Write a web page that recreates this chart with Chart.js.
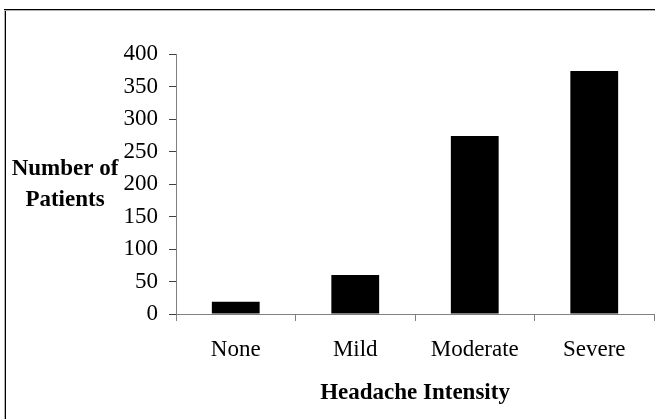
<!DOCTYPE html>
<html>
<head>
<meta charset="utf-8">
<script src="https://cdn.jsdelivr.net/npm/chart.js@4.4.0/dist/chart.umd.min.js"></script>
<style>
  html, body { margin: 0; padding: 0; background: #fff; }
  #wrap { width: 655px; height: 419px; position: relative; }
</style>
</head>
<body>
<div id="wrap"><canvas id="chart" width="655" height="419"></canvas></div>
<script>
// categories and values
const categories = ['None', 'Mild', 'Moderate', 'Severe'];
const patients = [19, 60, 274, 374];
const yTicks = [0, 50, 100, 150, 200, 250, 300, 350, 400];
const yTitleLines = ['Number of', 'Patients'];
const xTitle = 'Headache Intensity';

const serif = '"Liberation Serif", "Times New Roman", serif';
const axisGrey = '#808080';

// frame around the picture and the horizontal y-axis title
const framePlugin = {
    id: 'frame',
    beforeDraw(chart) {
        const ctx = chart.ctx;
        ctx.save();
        ctx.fillStyle = '#000';
        ctx.fillRect(4, 9, chart.width - 4, 1);
        ctx.fillRect(5, 9, 1, chart.height - 9);
        ctx.fillStyle = '#b0b0b0';
        ctx.fillRect(5, 10, chart.width - 5, 1);
        ctx.fillRect(4, 10, 1, chart.height - 10);
        ctx.restore();
    },
    afterDraw(chart) {
        const ctx = chart.ctx;
        ctx.save();
        ctx.font = 'bold 23px ' + serif;
        ctx.fillStyle = '#000';
        ctx.textAlign = 'center';
        ctx.textBaseline = 'alphabetic';
        ctx.fillText(yTitleLines[0], 65, 175);
        ctx.fillText(yTitleLines[1], 65, 206);
        ctx.restore();
    }
};

const ctx = document.getElementById('chart').getContext('2d');
new Chart(ctx, {
    type: 'bar',
    data: {
        labels: categories,
        datasets: [{
            data: patients,
            backgroundColor: '#000',
            borderWidth: 0,
            barPercentage: 0.4,
            categoryPercentage: 1.0
        }]
    },
    options: {
        responsive: false,
        animation: false,
        layout: { padding: { top: 54, right: 1, bottom: 0, left: 0 } },
        plugins: {
            legend: { display: false },
            tooltip: { enabled: false }
        },
        scales: {
            x: {
                grid: {
                    offset: true,
                    drawOnChartArea: false,
                    tickLength: 7,
                    color: axisGrey
                },
                border: { color: axisGrey, width: 1 },
                ticks: {
                    color: '#000',
                    padding: 15,
                    font: { family: serif, size: 23 }
                },
                title: {
                    display: true,
                    text: xTitle,
                    color: '#000',
                    font: { family: serif, size: 23, weight: 'bold' },
                    padding: { top: 0, bottom: 12 }
                },
                afterFit(scale) { scale.height = 105; }
            },
            y: {
                min: 0,
                max: 400,
                afterBuildTicks(scale) {
                    scale.ticks = yTicks.map(v => ({ value: v }));
                },
                grid: {
                    drawOnChartArea: false,
                    tickLength: 7,
                    color: '#404040'
                },
                border: { color: axisGrey, width: 1 },
                ticks: {
                    color: '#000',
                    padding: 11,
                    font: { family: serif, size: 23 }
                },
                afterFit(scale) { scale.width = 176; }
            }
        }
    },
    plugins: [framePlugin]
});
</script>
</body>
</html>
